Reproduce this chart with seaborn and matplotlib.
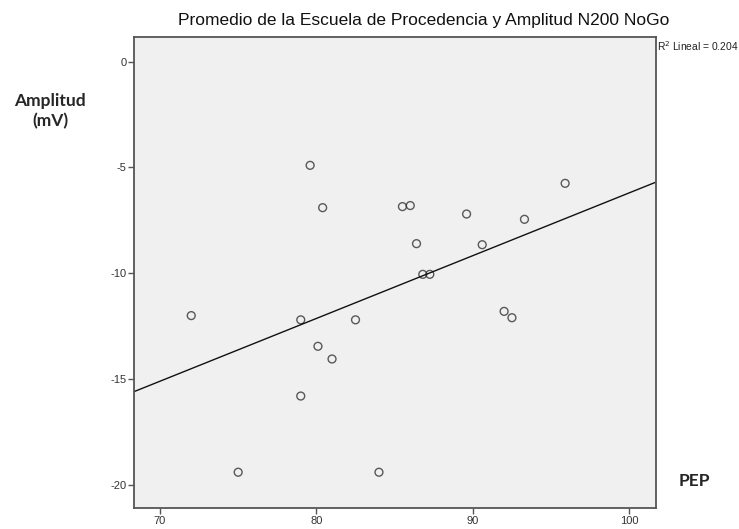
import numpy as np
import pandas as pd
import seaborn as sns
import matplotlib.pyplot as plt

# Valores (PEP vs amplitud N200 NoGo)
pep = [72.0, 75.0, 79.0, 80.1, 81.0, 79.0, 82.5, 84.0, 79.6, 80.4, 85.5,
       86.0, 86.4, 86.8, 87.25, 89.6, 90.6, 93.3, 95.9, 92.0, 92.5]
amplitud = [-12.0, -19.4, -12.2, -13.45, -14.05, -15.8, -12.2, -19.4, -4.9, -6.9, -6.85,
            -6.8, -8.6, -10.05, -10.05, -7.2, -8.65, -7.45, -5.75, -11.8, -12.1]

x_ticks = [70, 80, 90, 100]
y_ticks = [0, -5, -10, -15, -20]
titulo = "Promedio de la Escuela de Procedencia y Amplitud N200 NoGo"
r2_texto = "R$^2$ Lineal = 0.204"

df = pd.DataFrame({"PEP": pep, "Amplitud": amplitud})

sns.set_style("white")
plt.rcParams['font.family'] = ['Liberation Sans', 'DejaVu Sans']
plt.rcParams['axes.unicode_minus'] = False

fig = plt.figure(figsize=(7.39, 5.29), dpi=100)
ax = fig.add_axes([0.1813, 0.0397, 0.706, 0.8898])
ax.set_facecolor('#f0f0f0')

# limites antes de regplot para que la recta llegue a los bordes
ax.set_xlim(68.34, 101.69)
ax.set_ylim(-21.09, 1.15)

sns.regplot(
    data=df, x="PEP", y="Amplitud", ax=ax, ci=None, truncate=False,
    scatter_kws=dict(s=32, facecolors='none', edgecolors='#333333', linewidths=1.0),
    line_kws=dict(color='#111111', linewidth=1.0),
)

ax.set_xlim(68.34, 101.69)
ax.set_ylim(-21.09, 1.15)
ax.set_xticks(x_ticks)
ax.set_yticks(y_ticks)
ax.set_xlabel("")
ax.set_ylabel("")
ax.tick_params(axis='both', direction='out', length=4.5, width=1, color='#555555',
               labelsize=8, labelcolor='#333333', pad=1, left=True, bottom=True)

for side, sp in ax.spines.items():
    sp.set_color('#555555')
    sp.set_linewidth(1.3)

fig.text(424 / 739, 1 - 20 / 529, titulo, ha='center', va='center', fontsize=12.5, color='#111111')
fig.text(657 / 739, 1 - 46 / 529, r2_texto, ha='left', va='center', fontsize=7.4, color='#222222')
fig.text(50 / 739, 1 - 111 / 529, "Amplitud\n(mV)", ha='center', va='center', fontsize=12.5,
         fontweight='bold', family=['Lato', 'DejaVu Sans'], linespacing=1.3)
fig.text(694 / 739, 1 - 481 / 529, "PEP", ha='center', va='center', fontsize=12.5,
         fontweight='bold', family=['Lato', 'DejaVu Sans'])

fig.savefig("out.png", dpi=100)
